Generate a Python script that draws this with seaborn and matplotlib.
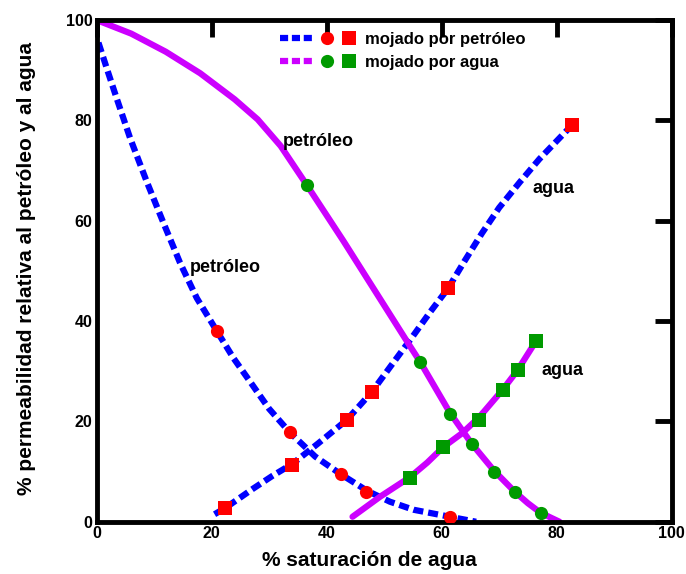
import matplotlib
matplotlib.use("Agg")
import matplotlib.pyplot as plt
from matplotlib.lines import Line2D
from matplotlib.legend_handler import HandlerBase
import seaborn as sns
import pandas as pd

# ---------------- data ----------------
# mojado por petróleo (oil-wet): relative permeability to oil
ow_oil_sw = [0.3, 2.0, 3.5, 5.8, 8.7, 11.6, 14.5, 17.4, 20.9, 23.8, 26.7, 30.0, 33.6, 38.0, 42.3, 47.0, 51.0, 55.1, 61.4, 66.0]
ow_oil_kr = [95.5, 89.5, 84.3, 76.5, 67.8, 59.6, 51.6, 44.6, 38.0, 32.6, 27.9, 22.5, 17.8, 13.0, 9.6, 6.2, 4.0, 2.4, 1.0, 0.0]
ow_oil_pts_sw = [20.9, 33.6, 42.5, 46.9, 61.4]
ow_oil_pts_kr = [38.0, 17.8, 9.6, 5.9, 1.0]

# mojado por petróleo: relative permeability to water
ow_wat_sw = [20.5, 22.3, 27.2, 30.5, 34.1, 38.5, 43.5, 47.8, 51.0, 55.0, 58.0, 61.1, 64.0, 67.0, 70.0, 73.6, 77.0, 80.6, 82.7]
ow_wat_kr = [1.5, 2.7, 6.6, 9.1, 11.6, 15.6, 20.3, 25.8, 30.8, 37.0, 41.8, 46.5, 52.0, 57.5, 62.6, 67.7, 72.3, 76.6, 79.1]
ow_wat_pts_sw = [22.3, 34.0, 43.5, 47.8, 61.1, 82.7]
ow_wat_pts_kr = [2.7, 11.4, 20.3, 25.8, 46.5, 79.1]

# mojado por agua (water-wet): relative permeability to oil
ww_oil_sw = [0.0, 6.0, 12.0, 18.0, 24.0, 28.0, 32.0, 36.5, 42.9, 48.7, 54.5, 56.3, 59.0, 61.4, 65.2, 69.1, 72.7, 75.0, 77.2, 80.5]
ww_oil_kr = [100.0, 97.3, 93.7, 89.4, 84.2, 80.2, 74.9, 67.2, 56.0, 45.5, 35.0, 31.8, 26.5, 21.8, 15.6, 10.2, 6.0, 3.7, 1.8, 0.0]
ww_oil_pts_sw = [36.5, 56.3, 61.4, 65.2, 69.1, 72.7, 77.2]
ww_oil_pts_kr = [67.2, 31.8, 21.5, 15.5, 10.0, 5.9, 1.7]

# mojado por agua: relative permeability to water
ww_wat_sw = [44.5, 49.3, 54.5, 57.5, 60.3, 63.5, 66.5, 70.6, 73.2, 76.4]
ww_wat_kr = [1.0, 5.0, 8.9, 11.8, 14.9, 17.6, 20.8, 26.3, 30.2, 36.0]
ww_wat_pts_sw = [54.5, 60.3, 66.5, 70.6, 73.2, 76.4]
ww_wat_pts_kr = [8.7, 14.9, 20.3, 26.3, 30.2, 36.0]

ticks = [0, 20, 40, 60, 80, 100]
legend_labels = ["mojado por petróleo", "mojado por agua"]
curve_labels = [("petróleo", 38.5, 75.7), ("petróleo", 22.3, 50.7),
                ("agua", 79.4, 66.5), ("agua", 81.1, 30.1)]

# ---------------- style ----------------
sns.set_style("white")
plt.rcParams["font.family"] = ["Liberation Sans", "DejaVu Sans"]
plt.rcParams["font.weight"] = "bold"
plt.rcParams["text.color"] = "black"
plt.rcParams["axes.labelcolor"] = "black"
plt.rcParams["xtick.color"] = "black"
plt.rcParams["ytick.color"] = "black"

BLUE = "#0000FF"
MAG = "#CC00FF"
RED = "#FF0000"
GREEN = "#009A00"
LW = 4.5
DASH = (0, (1.6, 0.8))
MS = 90

fig, ax = plt.subplots(figsize=(6.86, 5.74), dpi=100)
fig.subplots_adjust(left=0.141, right=0.979, bottom=0.091, top=0.965)

def line(x, y, color, ls):
    df = pd.DataFrame({"x": x, "y": y})
    sns.lineplot(data=df, x="x", y="y", sort=False, estimator=None, color=color,
                 linewidth=LW, linestyle=ls, ax=ax, zorder=2)

def pts(x, y, color, marker):
    df = pd.DataFrame({"x": x, "y": y})
    sns.scatterplot(data=df, x="x", y="y", color=color, marker=marker, s=MS,
                    linewidth=0, ax=ax, zorder=3)

line(ow_oil_sw, ow_oil_kr, BLUE, DASH)
line(ow_wat_sw, ow_wat_kr, BLUE, DASH)
line(ww_oil_sw, ww_oil_kr, MAG, "-")
line(ww_wat_sw, ww_wat_kr, MAG, "-")
pts(ow_oil_pts_sw, ow_oil_pts_kr, RED, "o")
pts(ow_wat_pts_sw, ow_wat_pts_kr, RED, "s")
pts(ww_oil_pts_sw, ww_oil_pts_kr, GREEN, "o")
pts(ww_wat_pts_sw, ww_wat_pts_kr, GREEN, "s")

for txt, x, y in curve_labels:
    ax.text(x, y, txt, ha="center", va="center", fontsize=13, fontweight="bold",
            color="black")

ax.set_xlim(0, 100)
ax.set_ylim(0, 100)
ax.set_xticks(ticks)
ax.set_yticks(ticks)
ax.set_xticklabels([str(t) for t in ticks], fontweight="bold")
ax.set_yticklabels([str(t) for t in ticks], fontweight="bold")
ax.tick_params(direction="in", length=12, width=3.5, top=True, right=True,
               labelsize=11.5, pad=3, colors="black")
for sp in ax.spines.values():
    sp.set_visible(True)
    sp.set_linewidth(3.5)
    sp.set_color("black")

ax.set_xlabel("% saturación de agua", fontsize=15, fontweight="bold")
ax.set_ylabel("% permeabilidad relativa al petróleo y al agua", fontsize=15, fontweight="bold")
ax.xaxis.set_label_coords(0.474, -0.058)
ax.yaxis.set_label_coords(-0.106, 0.505)


class LegendKey:
    def __init__(self, lc, mc):
        self.lc, self.mc = lc, mc


class TripleHandler(HandlerBase):
    def create_artists(self, legend, orig, xdescent, ydescent, width, height, fontsize, trans):
        y = height / 2 - ydescent
        x0 = -xdescent
        l = Line2D([x0, x0 + 0.44 * width], [y, y], color=orig.lc, lw=LW,
                   linestyle=(0, (1.3, 0.6)))
        c = Line2D([x0 + 0.62 * width], [y], marker="o", color=orig.mc,
                   markersize=9.5, markeredgewidth=0, linestyle="none")
        s = Line2D([x0 + 0.92 * width], [y], marker="s", color=orig.mc,
                   markersize=9.5, markeredgewidth=0, linestyle="none")
        for a in (l, c, s):
            a.set_transform(trans)
        return [l, c, s]


keys = [LegendKey(BLUE, RED), LegendKey(MAG, GREEN)]
leg = ax.legend(keys, legend_labels, handler_map={LegendKey: TripleHandler()},
                loc="upper left", bbox_to_anchor=(0.319, 0.977), frameon=False,
                borderpad=0, borderaxespad=0, handlelength=4.5, handletextpad=0.6,
                labelspacing=0.5, prop={"size": 12, "weight": "bold"})

fig.savefig("out.png", dpi=100)
